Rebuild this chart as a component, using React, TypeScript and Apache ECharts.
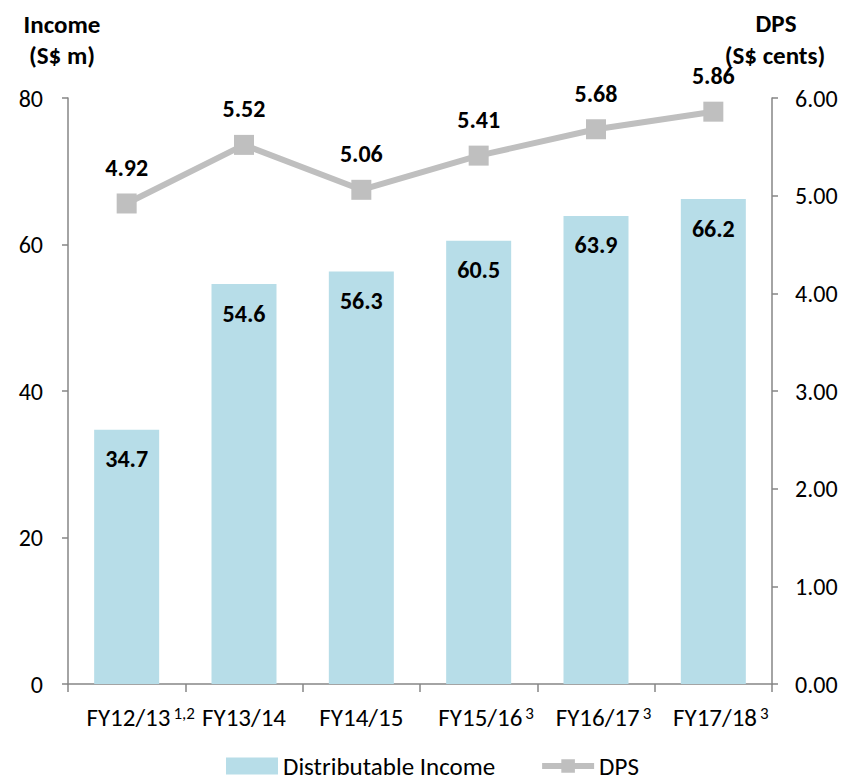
import React, { useEffect, useRef } from "react";
import * as echarts from "echarts";

// Fiscal years, with footnote markers shown as superscripts
const categories = ["FY12/13", "FY13/14", "FY14/15", "FY15/16", "FY16/17", "FY17/18"];
const footnotes = ["1,2", "", "", "3", "3", "3"];

// Distributable income (S$ m)
const distributableIncome = [34.7, 54.6, 56.3, 60.5, 63.9, 66.2];
// Distribution per unit (S$ cents)
const dps = [4.92, 5.52, 5.06, 5.41, 5.68, 5.86];

const leftTicks = { min: 0, max: 80, interval: 20 };
const rightTicks = { min: 0, max: 6, interval: 1 };

const FONT = "Carlito, Lato, sans-serif";
const BAR_COLOR = "#B7DDE8";
const LINE_COLOR = "#BFBFBF";
const AXIS_COLOR = "#868686";

export default function App() {
  const ref = useRef<HTMLDivElement>(null);

  useEffect(() => {
    document.body.style.margin = "0";
    const chart = echarts.init(ref.current!, null, { renderer: "svg" });

    const titleStyle = {
      fontSize: 25,
      fontWeight: "bold",
      fontFamily: FONT,
      fill: "#000",
      align: "center",
      verticalAlign: "middle",
    };

    chart.setOption({
      animation: false,
      textStyle: { fontFamily: FONT },
      grid: { left: 68, right: 76, top: 98, bottom: 100, containLabel: false },
      legend: {
        left: 226,
        bottom: 4,
        padding: 0,
        itemWidth: 52,
        itemHeight: 17,
        itemGap: 44,
        textStyle: { fontSize: 25, lineHeight: 28, color: "#000", fontFamily: FONT },
        data: [
          { name: "Distributable Income", icon: "rect" },
          { name: "DPS", lineStyle: { width: 6, color: LINE_COLOR } },
        ],
      },
      xAxis: {
        type: "category",
        data: categories,
        axisLine: { lineStyle: { color: AXIS_COLOR, width: 1.5 } },
        axisTick: { show: true, length: 8, lineStyle: { color: AXIS_COLOR, width: 1.5 } },
        axisLabel: {
          interval: 0,
          margin: 21,
          formatter: (v: string, i: number) => {
            const sup = footnotes[i];
            if (!sup) return `{a|${v}}`;
            return `{${sup === "1,2" ? "p2" : "p1"}|}{a|${v}}{s|${sup}}`;
          },
          rich: {
            a: { fontSize: 25, color: "#000", fontFamily: FONT },
            s: { fontSize: 17, color: "#000", fontFamily: FONT, verticalAlign: "top", padding: [0, 0, 0, 3] },
            p1: { width: 15 },
            p2: { width: 28 },
          },
        },
      },
      yAxis: [
        {
          type: "value",
          ...leftTicks,
          splitLine: { show: false },
          axisLine: { show: true, lineStyle: { color: AXIS_COLOR, width: 1.5 } },
          axisTick: { show: true, length: 6, lineStyle: { color: AXIS_COLOR, width: 1.5 } },
          axisLabel: { fontSize: 24, color: "#000", margin: 25, fontFamily: FONT },
        },
        {
          type: "value",
          ...rightTicks,
          splitLine: { show: false },
          axisLine: { show: true, lineStyle: { color: AXIS_COLOR, width: 1.5 } },
          axisTick: { show: true, length: 6, lineStyle: { color: AXIS_COLOR, width: 1.5 } },
          axisLabel: {
            fontSize: 24,
            color: "#000",
            margin: 23,
            fontFamily: FONT,
            formatter: (v: number) => v.toFixed(2),
          },
        },
      ],
      series: [
        {
          name: "Distributable Income",
          type: "bar",
          data: distributableIncome,
          barWidth: 65,
          itemStyle: { color: BAR_COLOR },
          label: {
            show: true,
            position: "insideTop",
            distance: 17,
            fontSize: 24,
            fontWeight: "bold",
            color: "#000",
            fontFamily: FONT,
            formatter: (p: any) => p.value.toFixed(1),
          },
        },
        {
          name: "DPS",
          type: "line",
          yAxisIndex: 1,
          data: dps,
          symbol: "rect",
          symbolSize: 20,
          lineStyle: { color: LINE_COLOR, width: 6 },
          itemStyle: { color: LINE_COLOR },
          label: {
            show: true,
            position: "top",
            distance: 14,
            fontSize: 24,
            fontWeight: "bold",
            color: "#000",
            fontFamily: FONT,
            formatter: (p: any) => p.value.toFixed(2),
          },
        },
      ],
      graphic: [
        { type: "text", x: 62, y: 24, style: { ...titleStyle, text: "Income" } },
        { type: "text", x: 62, y: 55, style: { ...titleStyle, text: "(S$ m)" } },
        { type: "text", x: 776, y: 23, style: { ...titleStyle, text: "DPS" } },
        { type: "text", x: 775, y: 55, style: { ...titleStyle, text: "(S$ cents)" } },
      ],
    });

    return () => chart.dispose();
  }, []);

  return <div ref={ref} style={{ width: 848, height: 784 }} />;
}
